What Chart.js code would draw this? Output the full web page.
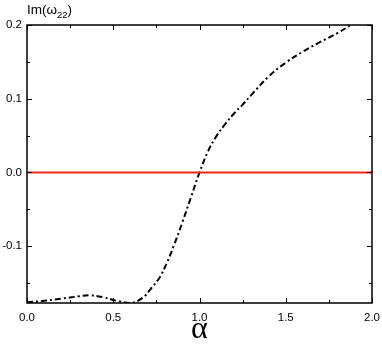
<!DOCTYPE html>
<html>
<head>
<meta charset="utf-8">
<script src="https://cdn.jsdelivr.net/npm/chart.js@4/dist/chart.umd.min.js"></script>
<style>
html,body{margin:0;padding:0;background:#fff;}
#wrap{width:382px;height:346px;position:relative;}
</style>
</head>
<body>
<div id="wrap"><canvas id="c" width="382" height="346"></canvas></div>
<script>
// ---- data ----
const alphaVals = [0, 0.1, 0.2, 0.3, 0.36, 0.44, 0.52, 0.6, 0.67, 0.72, 0.77, 0.81, 0.85, 0.9, 0.95, 1.0, 1.05, 1.1, 1.15, 1.2, 1.25, 1.3, 1.4, 1.5, 1.6, 1.7, 1.8, 1.87];
const imVals    = [-0.176, -0.174, -0.171, -0.168, -0.1665, -0.169, -0.174, -0.177, -0.170, -0.157, -0.142, -0.123, -0.1, -0.068, -0.034, 0.0, 0.029, 0.05, 0.066, 0.08, 0.092, 0.105, 0.13, 0.149, 0.164, 0.177, 0.189, 0.199];
const zeroLineX = [0, 2];
const zeroLineY = [0, 0];
const xTicks = [0, 0.5, 1.0, 1.5, 2.0];
const xMinorTicks = [0.25, 0.75, 1.25, 1.75];
const yTicks = [-0.1, 0.0, 0.1, 0.2];
const yMinorTicks = [-0.15, -0.05, 0.05, 0.15];
const xLabel = 'α';
const yTitleMain = 'Im(ω';
const yTitleSub = '22';
const yTitleEnd = ')';

const curve = alphaVals.map((x, i) => ({x: x, y: imVals[i]}));
const zero = zeroLineX.map((x, i) => ({x: x, y: zeroLineY[i]}));

const framePlugin = {
  id: 'frame',
  afterDatasetsDraw(chart) {
    const {ctx, chartArea: a, scales: {x, y}} = chart;
    ctx.save();
    ctx.strokeStyle = '#000';
    ctx.lineWidth = 1.5;
    ctx.strokeRect(a.left, a.top, a.right - a.left, a.bottom - a.top);
    ctx.lineWidth = 1;
    const tick = (vals, len) => {
      vals.forEach(v => {
        const px = Math.round(x.getPixelForValue(v)) + 0.5;
        ctx.beginPath();
        ctx.moveTo(px, a.bottom); ctx.lineTo(px, a.bottom - len);
        ctx.moveTo(px, a.top); ctx.lineTo(px, a.top + len);
        ctx.stroke();
      });
    };
    const tickY = (vals, len) => {
      vals.forEach(v => {
        const py = Math.round(y.getPixelForValue(v)) + 0.5;
        ctx.beginPath();
        ctx.moveTo(a.left, py); ctx.lineTo(a.left + len, py);
        ctx.moveTo(a.right, py); ctx.lineTo(a.right - len, py);
        ctx.stroke();
      });
    };
    tick(xTicks, 5); tick(xMinorTicks, 3);
    tickY(yTicks, 5); tickY(yMinorTicks, 3);
    ctx.restore();
  },
  afterDraw(chart) {
    const ctx = chart.ctx;
    ctx.save();
    ctx.fillStyle = '#000';
    ctx.textBaseline = 'alphabetic';
    ctx.textAlign = 'left';
    let xp = 27;
    ctx.font = '13.5px "Liberation Sans", Arial, sans-serif';
    ctx.fillText(yTitleMain, xp, 14);
    xp += ctx.measureText(yTitleMain).width;
    ctx.font = '9.5px "Liberation Sans", Arial, sans-serif';
    ctx.fillText(yTitleSub, xp, 18);
    xp += ctx.measureText(yTitleSub).width;
    ctx.font = '13.5px "Liberation Sans", Arial, sans-serif';
    ctx.fillText(yTitleEnd, xp, 14);
    ctx.restore();
  }
};

new Chart(document.getElementById('c'), {
  type: 'scatter',
  data: {
    datasets: [
      {
        data: zero, showLine: true, borderColor: '#f02818', borderWidth: 2,
        pointRadius: 0, fill: false
      },
      {
        data: curve, showLine: true, borderColor: '#000', borderWidth: 2,
        borderDash: [6, 3, 2, 3], pointRadius: 0, fill: false,
        tension: 0.4
      }
    ]
  },
  options: {
    responsive: false,
    animation: false,
    events: [],
    layout: {padding: {left: 0, right: 10, top: 25, bottom: 0}},
    plugins: {legend: {display: false}, tooltip: {enabled: false}},
    scales: {
      x: {
        type: 'linear', min: 0, max: 2,
        afterBuildTicks: s => { s.ticks = xTicks.map(v => ({value: v})); },
        afterFit: s => { s.height = 43; s.paddingLeft = 0; s.paddingRight = 0; },
        grid: {display: false, drawTicks: false},
        border: {display: false},
        ticks: {
          padding: 8, color: '#000', maxRotation: 0,
          font: {family: '"Liberation Sans", Arial, sans-serif', size: 11.5},
          callback: v => Number(v).toFixed(1)
        },
        title: {
          display: true, text: xLabel, color: '#000',
          font: {family: '"Liberation Serif", "Times New Roman", serif', size: 32, lineHeight: 1.0},
          padding: {top: 0, bottom: 0}
        }
      },
      y: {
        type: 'linear', min: -0.177, max: 0.2,
        afterBuildTicks: s => { s.ticks = yTicks.map(v => ({value: v})); },
        afterFit: s => { s.width = 27; },
        grid: {display: false, drawTicks: false},
        border: {display: false},
        ticks: {
          padding: 5, color: '#000',
          font: {family: '"Liberation Sans", Arial, sans-serif', size: 11.5},
          callback: v => Number(v).toFixed(1)
        }
      }
    }
  },
  plugins: [framePlugin]
});
</script>
</body>
</html>
